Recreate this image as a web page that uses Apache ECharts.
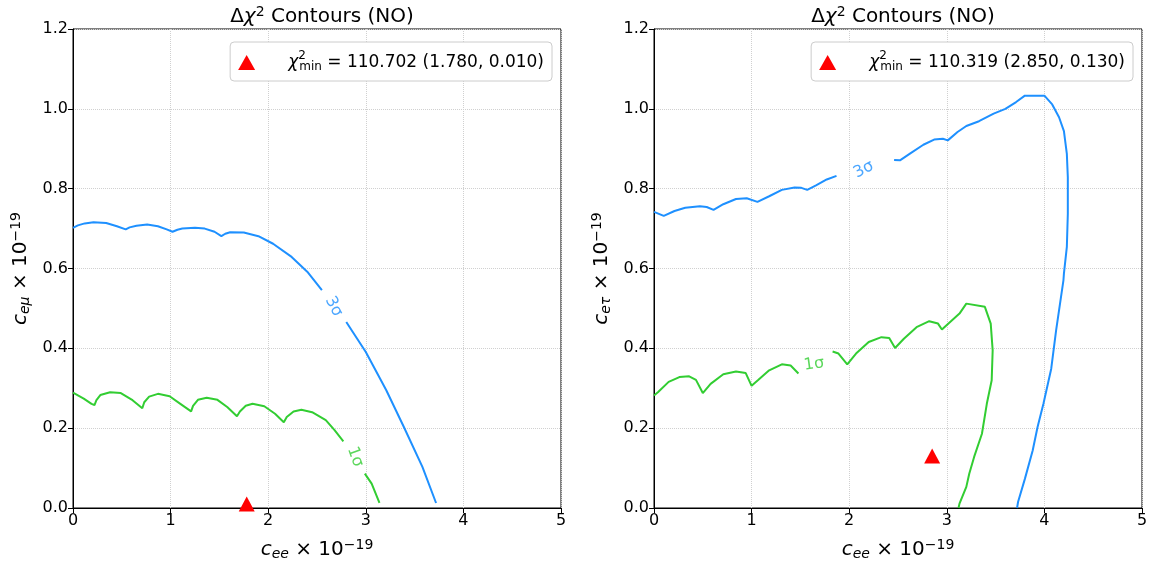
<!DOCTYPE html>
<html>
<head>
<meta charset="utf-8">
<script src="https://cdn.jsdelivr.net/npm/echarts@6/dist/echarts.min.js"></script>
<style>
  html, body { margin: 0; padding: 0; background: #fff; }
  #main { width: 1151px; height: 563px; }
</style>
</head>
<body>
<div id="main"></div>
<script>
"use strict";
// contour points, [c_ee, c_e?] in units of 1e-19
let left3SigmaA = [[0,0.702],[0.05,0.708],[0.12,0.713],[0.21,0.716],[0.34,0.714],[0.45,0.706],[0.54,0.698],[0.58,0.703],[0.65,0.707],[0.76,0.71],[0.87,0.706],[0.96,0.698],[1.02,0.692],[1.07,0.697],[1.12,0.70],[1.25,0.702],[1.35,0.700],[1.45,0.692],[1.52,0.681],[1.56,0.687],[1.61,0.691],[1.75,0.69],[1.90,0.681],[2.05,0.662],[2.24,0.629],[2.40,0.592],[2.55,0.546]];
let left3SigmaB = [[2.80,0.466],[3.0,0.391],[3.21,0.295],[3.39,0.203],[3.58,0.103],[3.72,0.0125]];
let left1SigmaA = [[0,0.289],[0.11,0.274],[0.19,0.261],[0.22,0.258],[0.24,0.270],[0.28,0.283],[0.38,0.29],[0.49,0.288],[0.61,0.27],[0.71,0.25],[0.73,0.265],[0.78,0.279],[0.87,0.286],[0.99,0.28],[1.10,0.261],[1.21,0.242],[1.23,0.256],[1.28,0.271],[1.37,0.276],[1.48,0.271],[1.58,0.253],[1.68,0.23],[1.71,0.242],[1.77,0.256],[1.84,0.261],[1.96,0.255],[2.07,0.236],[2.16,0.215],[2.19,0.228],[2.26,0.242],[2.34,0.246],[2.45,0.24],[2.59,0.22],[2.68,0.195],[2.77,0.167]];
let left1SigmaB = [[2.99,0.086],[3.06,0.061],[3.14,0.013]];
let right3SigmaA = [[0,0.742],[0.10,0.732],[0.21,0.744],[0.32,0.752],[0.47,0.756],[0.54,0.754],[0.61,0.747],[0.71,0.761],[0.84,0.774],[0.95,0.776],[1.06,0.767],[1.18,0.781],[1.31,0.797],[1.44,0.803],[1.51,0.802],[1.57,0.797],[1.66,0.808],[1.77,0.823],[1.87,0.832]];
let right3SigmaB = [[2.46,0.872],[2.52,0.871],[2.63,0.889],[2.76,0.91],[2.87,0.923],[2.96,0.925],[3.01,0.921],[3.11,0.942],[3.20,0.957],[3.33,0.969],[3.48,0.988],[3.60,1.0],[3.71,1.017],[3.80,1.033],[4.0,1.033],[4.08,1.011],[4.15,0.979],[4.20,0.944],[4.23,0.887],[4.24,0.829],[4.24,0.737],[4.23,0.654],[4.20,0.587],[4.195,0.57],[4.12,0.445],[4.07,0.349],[3.99,0.261],[3.93,0.203],[3.88,0.144],[3.80,0.073],[3.73,0.015],[3.72,0.0]];
let right1SigmaA = [[0,0.282],[0.04,0.29],[0.15,0.316],[0.26,0.328],[0.36,0.33],[0.43,0.321],[0.50,0.288],[0.58,0.311],[0.71,0.335],[0.84,0.342],[0.94,0.338],[1.0,0.306],[1.07,0.321],[1.18,0.345],[1.31,0.36],[1.40,0.357],[1.48,0.337]];
let right1SigmaB = [[1.83,0.392],[1.89,0.387],[1.98,0.36],[2.07,0.387],[2.20,0.416],[2.33,0.428],[2.41,0.426],[2.47,0.401],[2.56,0.424],[2.69,0.453],[2.82,0.468],[2.91,0.462],[2.95,0.447],[3.02,0.463],[3.13,0.487],[3.20,0.512],[3.39,0.504],[3.45,0.462],[3.47,0.395],[3.46,0.32],[3.41,0.261],[3.36,0.186],[3.28,0.128],[3.23,0.086],[3.20,0.053],[3.13,0.011],[3.12,0.0]];
let bestLeft = [[1.78, 0.01]];
let bestRight = [[2.85, 0.13]];
let chiMinLeft = '110.702 (1.780, 0.010)';
let chiMinRight = '110.319 (2.850, 0.130)';
// contour label positions: [x, y, text, rotation]
let labelsLeft = [[2.67, 0.505, '3σ', -62], [2.89, 0.128, '1σ', -70]];
let labelsRight = [[2.15, 0.848, '3σ', 28], [1.64, 0.36, '1σ', 8]];

const FONT = 'DejaVu Sans';
const BLUE = '#1e90ff';
const GREEN = '#32cd32';

let myChart = echarts.init(document.getElementById('main'));

function axisName(sub) {
  return '{c|c}{s|' + sub + '}{t| × 10}{p|−19}';
}
const nameRich = {
  c: { fontFamily: FONT, fontStyle: 'italic', fontSize: 20, color: '#000' },
  s: { fontFamily: FONT, fontStyle: 'italic', fontSize: 14, color: '#000', padding: [8, 0, 0, 0] },
  t: { fontFamily: FONT, fontSize: 20, color: '#000' },
  p: { fontFamily: FONT, fontSize: 14, color: '#000', padding: [0, 0, 10, 0] }
};

function makeX(idx) {
  return {
    type: 'value', gridIndex: idx, min: 0, max: 5, interval: 1,
    name: axisName('ee'), nameLocation: 'middle', nameGap: 30,
    nameTextStyle: { rich: nameRich },
    axisLine: { show: true, lineStyle: { color: '#000', width: 1 } },
    axisTick: { show: true, length: 5, lineStyle: { color: '#000' } },
    axisLabel: { fontFamily: FONT, fontSize: 16, color: '#000', margin: 5 },
    splitLine: { show: true, lineStyle: { color: '#d0d0d0', type: 'dotted', width: 1 } }
  };
}
function makeY(idx, sub) {
  return {
    type: 'value', gridIndex: idx, min: 0, max: 1.2, interval: 0.2,
    name: axisName(sub), nameLocation: 'middle', nameGap: 40, nameRotate: 90,
    nameTextStyle: { rich: nameRich },
    axisLine: { show: true, lineStyle: { color: '#000', width: 1 } },
    axisTick: { show: true, length: 5, lineStyle: { color: '#000' } },
    axisLabel: { fontFamily: FONT, fontSize: 16, color: '#000', margin: 5,
      formatter: function (v) { return v.toFixed(1); } },
    splitLine: { show: true, lineStyle: { color: '#d0d0d0', type: 'dotted', width: 1 } }
  };
}
function lineSeries(idx, data, color) {
  return {
    type: 'line', xAxisIndex: idx, yAxisIndex: idx, data: data,
    showSymbol: false, symbol: 'none', silent: true,
    lineStyle: { color: color, width: 2 }, z: 3
  };
}
function labelSeries(idx, labels, colors) {
  return labels.map(function (l, i) {
    return {
      type: 'scatter', xAxisIndex: idx, yAxisIndex: idx, symbolSize: 0, silent: true,
      data: [[l[0], l[1]]],
      label: { show: true, position: 'inside', formatter: l[2], rotate: l[3],
        fontFamily: FONT, fontSize: 16, color: colors[i] }
    };
  });
}
function legendText(v) {
  return '{g|}{chi|χ}{sup|2}{sub|min}{t| = ' + v + '}';
}
const legendRich = {
  g: { width: 28 },
  chi: { fontFamily: FONT, fontStyle: 'italic', fontSize: 17, color: '#000' },
  sup: { fontFamily: FONT, fontSize: 12, color: '#000', width: 1, padding: [0, 0, 13, 0] },
  sub: { fontFamily: FONT, fontSize: 12, color: '#000', padding: [9, 0, 0, 0] },
  t: { fontFamily: FONT, fontSize: 17, color: '#000' }
};
function makeLegend(name, right, v) {
  return {
    data: [name], right: right, top: 42, orient: 'horizontal',
    icon: 'triangle', itemWidth: 17, itemHeight: 15,
    padding: [8, 8, 8, 8],
    borderColor: '#cccccc', borderWidth: 1, borderRadius: 4, backgroundColor: '#fff',
    selectedMode: false,
    formatter: function () { return legendText(v); },
    textStyle: { rich: legendRich }
  };
}
const titleRich = {
  a: { fontFamily: FONT, fontWeight: 'normal', fontSize: 20, color: '#000' },
  b: { fontFamily: FONT, fontWeight: 'normal', fontStyle: 'italic', fontSize: 20, color: '#000' },
  sup: { fontFamily: FONT, fontWeight: 'normal', fontSize: 14, color: '#000', padding: [0, 0, 10, 0] }
};
const titleText = '{a|Δ}{b|χ}{sup|2}{a| Contours (NO)}';

const gridBase = { top: 29, width: 488, height: 479, show: true, borderColor: '#000', borderWidth: 1,
  backgroundColor: 'transparent', containLabel: false, outerBoundsMode: 'none' };

let option = {
  animation: false,
  backgroundColor: '#fff',
  title: [
    { text: titleText, left: 317, top: 0, textAlign: 'center', textStyle: { fontWeight: 'normal', rich: titleRich } },
    { text: titleText, left: 898, top: 0, textAlign: 'center', textStyle: { fontWeight: 'normal', rich: titleRich } }
  ],
  legend: [
    makeLegend('bestL', 599, chiMinLeft),
    makeLegend('bestR', 18, chiMinRight)
  ],
  grid: [
    Object.assign({ left: 73 }, gridBase),
    Object.assign({ left: 654 }, gridBase)
  ],
  xAxis: [makeX(0), makeX(1)],
  yAxis: [makeY(0, 'eμ'), makeY(1, 'eτ')],
  series: [
    lineSeries(0, left3SigmaA, BLUE),
    lineSeries(0, left3SigmaB, BLUE),
    lineSeries(0, left1SigmaA, GREEN),
    lineSeries(0, left1SigmaB, GREEN),
    lineSeries(1, right3SigmaA, BLUE),
    lineSeries(1, right3SigmaB, BLUE),
    lineSeries(1, right1SigmaA, GREEN),
    lineSeries(1, right1SigmaB, GREEN),
    { name: 'bestL', type: 'scatter', xAxisIndex: 0, yAxisIndex: 0, data: bestLeft,
      symbol: 'triangle', symbolSize: [16, 15], itemStyle: { color: '#ff0000', opacity: 1 }, z: 4 },
    { name: 'bestR', type: 'scatter', xAxisIndex: 1, yAxisIndex: 1, data: bestRight,
      symbol: 'triangle', symbolSize: [16, 15], itemStyle: { color: '#ff0000', opacity: 1 }, z: 4 }
  ].concat(labelSeries(0, labelsLeft, [BLUE, GREEN]), labelSeries(1, labelsRight, [BLUE, GREEN]))
};
myChart.setOption(option);
</script>
</body>
</html>
